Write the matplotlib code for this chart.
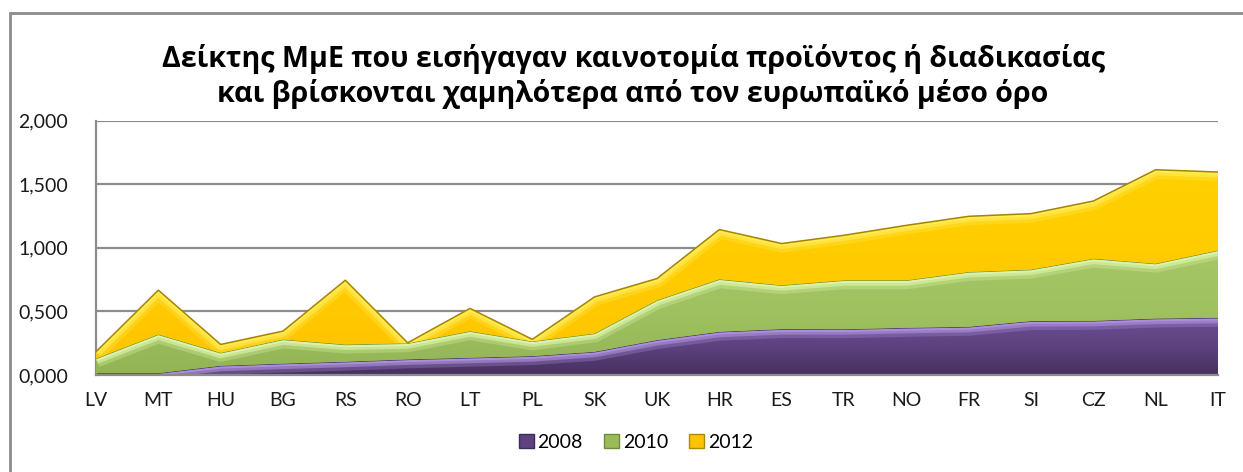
import numpy as np
import matplotlib
matplotlib.use("Agg")
import matplotlib.pyplot as plt
from matplotlib.colors import LinearSegmentedColormap
from matplotlib.patches import Patch, Rectangle
from matplotlib.ticker import FuncFormatter

# ---------------- data ----------------
countries = ["LV", "MT", "HU", "BG", "RS", "RO", "LT", "PL", "SK", "UK",
             "HR", "ES", "TR", "NO", "FR", "SI", "CZ", "NL", "IT"]
v2008 = [0.015, 0.015, 0.073, 0.090, 0.105, 0.123, 0.136, 0.149, 0.183, 0.275,
         0.340, 0.361, 0.360, 0.371, 0.379, 0.424, 0.426, 0.444, 0.450]
v2010 = [0.115, 0.305, 0.102, 0.190, 0.135, 0.127, 0.209, 0.116, 0.144, 0.313,
         0.413, 0.345, 0.385, 0.374, 0.431, 0.405, 0.489, 0.432, 0.530]
v2012 = [0.053, 0.347, 0.065, 0.065, 0.505, 0.003, 0.178, 0.015, 0.287, 0.170,
         0.390, 0.327, 0.353, 0.431, 0.437, 0.439, 0.452, 0.737, 0.615]
series_labels = ["2008", "2010", "2012"]
title = ("Δείκτης ΜμΕ που εισήγαγαν καινοτομία προϊόντος ή διαδικασίας\n"
         "και βρίσκονται χαμηλότερα από τον ευρωπαϊκό μέσο όρο")

# ---------------- figure ----------------
W, H = 1243, 472
fig = plt.figure(figsize=(W / 100, H / 100), dpi=100)
fig.patch.set_facecolor("white")
ax = fig.add_axes([96 / W, 1 - 375 / H, (1218 - 96) / W, (375 - 120.5) / H])

x = np.arange(len(countries))
a = np.array(v2008)
b = a + np.array(v2010)
c = b + np.array(v2012)

layers = [
    # lower, upper, gradient (bottom->top), highlight, edge
    (np.zeros_like(a), a, ["#46305f", "#5d427f", "#6b4e92"], "#ae92dc", "#453160"),
    (a, b, ["#93b455", "#a0c160", "#a6c767"], "#def6ab", "#6f8b3c"),
    (b, c, ["#ffc400", "#ffcb00", "#ffd000"], "#ffec55", "#a88300"),
]
ymins = [0.0, 0.0, 0.0]
ymaxs = [0.45, 1.0, 1.6]

z = 2
for (lo, up, grad_cols, hl, edge), y0, y1 in zip(layers, ymins, ymaxs):
    poly = ax.fill_between(x, lo, up, facecolor=grad_cols[1], lw=0, zorder=z)
    path = poly.get_paths()[0]
    cmap = LinearSegmentedColormap.from_list("g", grad_cols)
    grad = np.linspace(0, 1, 256).reshape(-1, 1)
    im = ax.imshow(grad, extent=[0, len(x) - 1, y0, y1], origin="lower",
                   aspect="auto", cmap=cmap, zorder=z + 0.05, interpolation="bilinear")
    im.set_clip_path(path, ax.transData)
    for lw, al in [(13, 0.3), (8, 0.6), (4, 0.9)]:
        hln, = ax.plot(x, up, color=hl, lw=lw, alpha=al, zorder=z + 0.1,
                       solid_joinstyle="round", solid_capstyle="butt")
        hln.set_clip_path(path, ax.transData)
    ax.plot(x, up, color=edge, lw=1.1, zorder=z + 0.3, solid_joinstyle="round")
    z += 1

ax.set_xlim(0, len(x) - 1)
ax.set_ylim(0, 2)

ax.set_yticks([0, 0.5, 1.0, 1.5, 2.0])
ax.yaxis.set_major_formatter(FuncFormatter(lambda v, p: f"{v:.3f}".replace(".", ",")))
ax.set_xticks(x)
ax.set_xticklabels(countries)

tick_font = ["Lato", "DejaVu Sans"]
for lab in ax.get_xticklabels() + ax.get_yticklabels():
    lab.set_family(tick_font)
    lab.set_fontsize(14)
    lab.set_color("#1a1a1a")
ax.tick_params(axis="y", length=0, pad=20)
ax.tick_params(axis="x", length=0, pad=12)

ax.grid(axis="y", color="#8c8c8c", lw=1.6, zorder=0)
ax.set_axisbelow(True)
for s in ["top", "right"]:
    ax.spines[s].set_visible(False)
ax.spines["left"].set_color("#8c8c8c")
ax.spines["left"].set_linewidth(1.6)
ax.spines["bottom"].set_color("#8c8c8c")
ax.spines["bottom"].set_linewidth(1.6)
ax.spines["bottom"].set_zorder(10)

# title
fig.text(633 / W, 1 - 76.5 / H, title, ha="center", va="center",
         family=["Open Sans", "DejaVu Sans"], fontweight="bold", fontsize=20.6,
         linespacing=1.22, color="#000000")

# legend
handles = [Patch(facecolor="#5d427f", edgecolor="#3e2b57"),
           Patch(facecolor="#9bbb59", edgecolor="#6f8b3c"),
           Patch(facecolor="#ffc400", edgecolor="#b08a00")]
leg = fig.legend(handles, series_labels, loc="center", bbox_to_anchor=(636 / W, 1 - 442 / H),
                 ncol=3, frameon=False, handlelength=0.75, handleheight=0.75,
                 handletextpad=0.2, columnspacing=1.1,
                 prop={"family": tick_font, "size": 14})

# chart border (top and left visible)
fig.add_artist(Rectangle((9.5 / W, -0.2), 1.2, 1.2 - 13 / H, transform=fig.transFigure,
                         fill=False, edgecolor="#8c8c8c", lw=2))

fig.savefig("out.png", dpi=100)
